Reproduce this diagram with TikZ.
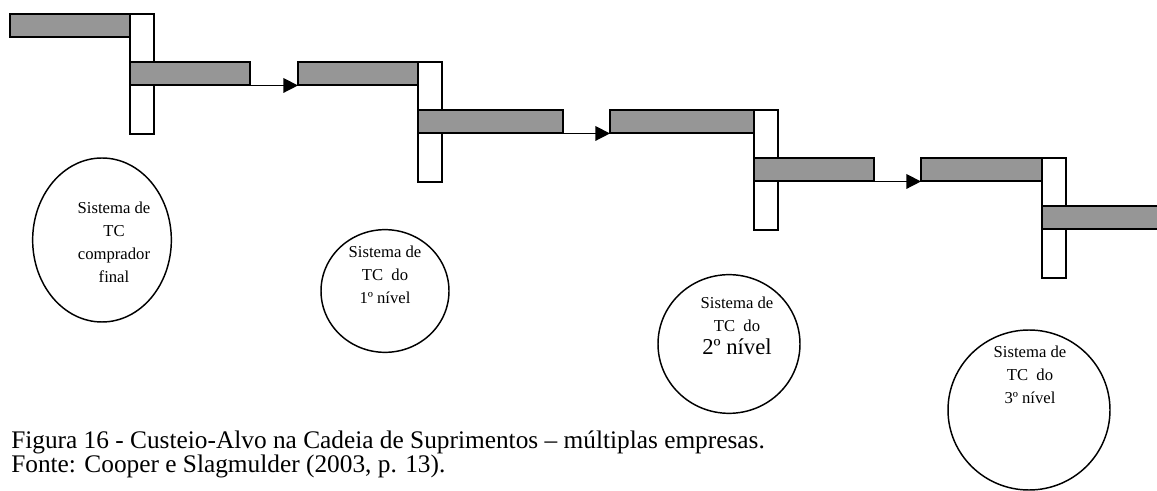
\documentclass[tikz,border=0pt]{standalone}
\usepackage{fontspec}
\setmainfont{Liberation Serif}
\usetikzlibrary{arrows.meta,shapes.geometric}
\definecolor{barGray}{RGB}{150,150,150}
\begin{document}
\begin{tikzpicture}[x=0.75pt,y=-0.75pt,
  bar/.style={rectangle,draw=black,line width=1.5pt,inner sep=0pt,outer sep=0pt,anchor=north west,minimum height=17.6pt},
  graybar/.style={bar,fill=barGray},
  whitebar/.style={bar,fill=white,minimum width=18pt,minimum height=90pt},
  flow/.style={draw=black,line width=1.1pt,-{Triangle[length=11pt,width=11pt]}},
  sys/.style={ellipse,draw=black,line width=1.1pt,inner sep=0pt},
  systext/.style={inner sep=0pt,align=center,font=\fontsize{12.5pt}{17.3pt}\selectfont},
  caption/.style={anchor=base west,inner sep=0pt,font=\fontsize{19pt}{22pt}\selectfont}
]
\useasboundingbox (0,0) rectangle (1157,491);
\clip (0,0) rectangle (1157,491);
% group 1
\node[whitebar] (v1) at (130,14) {};
\node[graybar,minimum width=90pt] (a) at (10,14) {};
\node[graybar,minimum width=90pt] (b) at (130,62) {};
% group 2
\node[whitebar] (v2) at (418,62) {};
\node[graybar,minimum width=90pt] (c) at (298,62) {};
\node[graybar,minimum width=108.75pt] (d) at (418,110) {};
% group 3
\node[whitebar] (v3) at (754,110) {};
\node[graybar,minimum width=108pt] (e) at (610,110) {};
\node[graybar,minimum width=90pt] (f) at (754,158) {};
% group 4
\node[whitebar] (v4) at (1042,158) {};
\node[graybar,minimum width=90.75pt] (g) at (921,158) {};
\node[graybar,minimum width=100pt] (h) at (1042,206) {};
% arrows
\draw[flow] (b.south east) -- (c.south west);
\draw[flow] (d.south east) -- (e.south west);
\draw[flow] (f.south east) -- (g.south west);
% systems
\node[sys,minimum width=104pt,minimum height=123pt] (s1) at (102,240) {};
\node[systext] (t1) at (114,242) {Sistema de\\TC\\comprador\\final};
\node[sys,minimum width=96pt,minimum height=92pt] (s2) at (385,291) {};
\node[systext] (t2) at (385,275) {Sistema de\\TC\ \ do\\1º nível};
\node[sys,minimum width=106.5pt,minimum height=104pt] (s3) at (729,344) {};
\node[systext] (t3) at (737,326) {Sistema de\\TC\ \ do\\{\fontsize{17pt}{20pt}\selectfont 2º nível}};
\node[sys,minimum width=121.5pt,minimum height=120pt] (s4) at (1029,410) {};
\node[systext] (t4) at (1030,375) {Sistema de\\TC\ \ do\\3º nível};
% caption
\node[caption] (cap1) at (11,449) {Figura 16 - Custeio-Alvo na Cadeia de Suprimentos – múltiplas empresas.};
\node[caption] (cap2) at (11,473) {Fonte: Cooper e Slagmulder (2003, p. 13).};
\end{tikzpicture}
\end{document}
